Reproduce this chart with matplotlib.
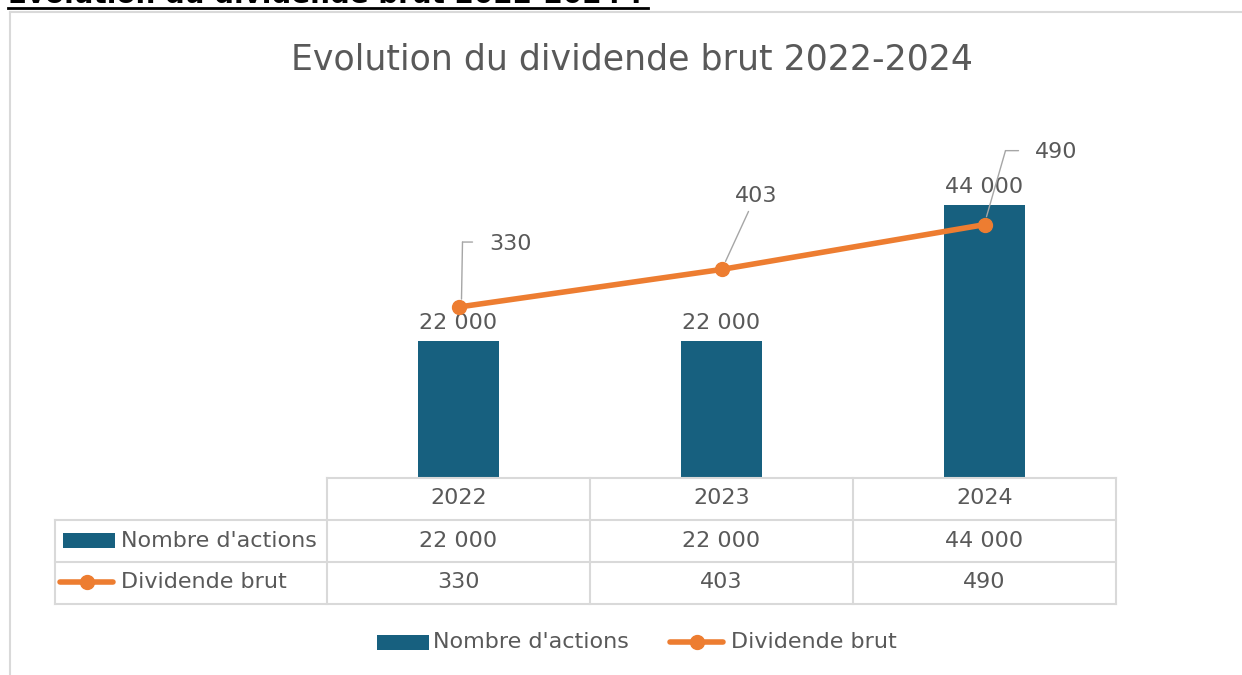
import matplotlib
matplotlib.use("Agg")
import matplotlib.pyplot as plt
import matplotlib.transforms as mtransforms
from matplotlib.lines import Line2D
from matplotlib.patches import Rectangle

W, H = 1242, 675

years = ["2022", "2023", "2024"]
actions = [22000, 22000, 44000]
dividende = [330, 403, 490]
serie_bar = "Nombre d'actions"
serie_line = "Dividende brut"
title = "Evolution du dividende brut 2022-2024"

blue = "#17607f"
orange = "#ed7d31"
grey_txt = "#595959"
grid = "#d9d9d9"
FS = 16

plt.rcParams['font.family'] = ['DejaVu Sans']


def fmt(v):
    return f"{v:,}".replace(",", " ")


def fx(x):
    return x / W


def fy(y):
    return 1 - y / H


fig = plt.figure(figsize=(W / 100, H / 100), dpi=100)
ax = fig.add_axes([fx(327), fy(477), fx(1116) - fx(327), fy(168) - fy(477)])
ax2 = ax.twinx()

xs = list(range(len(years)))
ax.bar(xs, actions, width=0.31, color=blue, zorder=2)
ax.set_xlim(-0.5, len(years) - 0.5)
ax.set_ylim(0, 50000)
ax2.set_ylim(0, 600)
ax2.plot(xs, dividende, color=orange, lw=4, marker='o', ms=10, zorder=5,
         solid_capstyle='round')

for a in (ax, ax2):
    for s in a.spines.values():
        s.set_visible(False)
    a.set_xticks([])
    a.set_yticks([])

# étiquettes des barres
for x, v in zip(xs, actions):
    ax.annotate(fmt(v), (x, v), xytext=(0, 8), textcoords='offset pixels',
                ha='center', va='bottom', fontsize=FS, color=grey_txt)

# étiquettes de la courbe avec lignes de rappel
lab_off = [(52, 63), (35, 73), (72, 73)]
leaders = [[(3, 8), (4, 65), (14, 65)],
           [(4, 8), (27, 58)],
           [(2, 8), (21, 74), (34, 74)]]
for x, v, off, path in zip(xs, dividende, lab_off, leaders):
    ax2.annotate(str(v), (x, v), xytext=off, textcoords='offset pixels',
                 ha='center', va='center', fontsize=FS, color=grey_txt)
    for p0, p1 in zip(path[:-1], path[1:]):
        t0 = mtransforms.offset_copy(ax2.transData, fig, x=p0[0], y=p0[1], units='dots')
        ax2.annotate('', xy=(x, v), xycoords=t0, xytext=(x, v),
                     textcoords=mtransforms.offset_copy(ax2.transData, fig, x=p1[0], y=p1[1], units='dots'),
                     arrowprops=dict(arrowstyle='-', color='#a6a6a6', lw=1,
                                     shrinkA=0, shrinkB=0), zorder=3)

ax.set_zorder(1)
ax2.set_zorder(2)

fig.text(fx(632), fy(60), title, ha='center', va='center', fontsize=25, color=grey_txt)

# tableau de données
def hline(y, x0, x1, color=grid, lw=1.5):
    fig.add_artist(Line2D([fx(x0), fx(x1)], [fy(y), fy(y)], color=color, lw=lw))


def vline(x, y0, y1, color=grid, lw=1.5):
    fig.add_artist(Line2D([fx(x), fx(x)], [fy(y0), fy(y1)], color=color, lw=lw))


hline(478, 327, 1116)
for y in (520, 562, 604):
    hline(y, 55, 1116)
vline(55, 520, 604)
for x in (327, 590, 853, 1116):
    vline(x, 478, 604)

bt = mtransforms.blended_transform_factory(ax.transData, fig.transFigure)
for x, yr, a, d in zip(xs, years, actions, dividende):
    fig.text(x, fy(498), yr, transform=bt, ha='center', va='center', fontsize=FS, color=grey_txt)
    fig.text(x, fy(541), fmt(a), transform=bt, ha='center', va='center', fontsize=FS, color=grey_txt)
    fig.text(x, fy(582), str(d), transform=bt, ha='center', va='center', fontsize=FS, color=grey_txt)


def key_bar(x0, yc):
    fig.add_artist(Rectangle((fx(x0), fy(yc + 7.5)), fx(52), 15 / H, color=blue, lw=0))


def key_line(x0, yc):
    fig.add_artist(Line2D([fx(x0), fx(x0 + 53)], [fy(yc), fy(yc)], color=orange, lw=4,
                          solid_capstyle='round'))
    fig.add_artist(Line2D([fx(x0 + 26.5)], [fy(yc)], color=orange, marker='o', ms=10))


key_bar(63, 540)
fig.text(fx(121), fy(541), serie_bar, ha='left', va='center', fontsize=FS, color=grey_txt)
key_line(60, 582)
fig.text(fx(121), fy(582), serie_line, ha='left', va='center', fontsize=FS, color=grey_txt)

# légende
key_bar(377, 642)
fig.text(fx(433), fy(642), serie_bar, ha='left', va='center', fontsize=FS, color=grey_txt)
key_line(670, 642)
fig.text(fx(731), fy(642), serie_line, ha='left', va='center', fontsize=FS, color=grey_txt)

# cadre du graphique
fig.add_artist(Line2D([fx(10), 1], [fy(12), fy(12)], color=grid, lw=1.5))
fig.add_artist(Line2D([fx(10), fx(10)], [fy(12), 0], color=grid, lw=1.5))

# titre du document coupé en haut (comme dans la capture)
fig.text(fx(8), fy(3), title + " :", ha='left', va='baseline', fontsize=20,
         fontweight='bold', color='black')
fig.add_artist(Line2D([fx(8), fx(648)], [fy(7.5), fy(7.5)], color='black', lw=2))

fig.savefig("out.png", dpi=100)
